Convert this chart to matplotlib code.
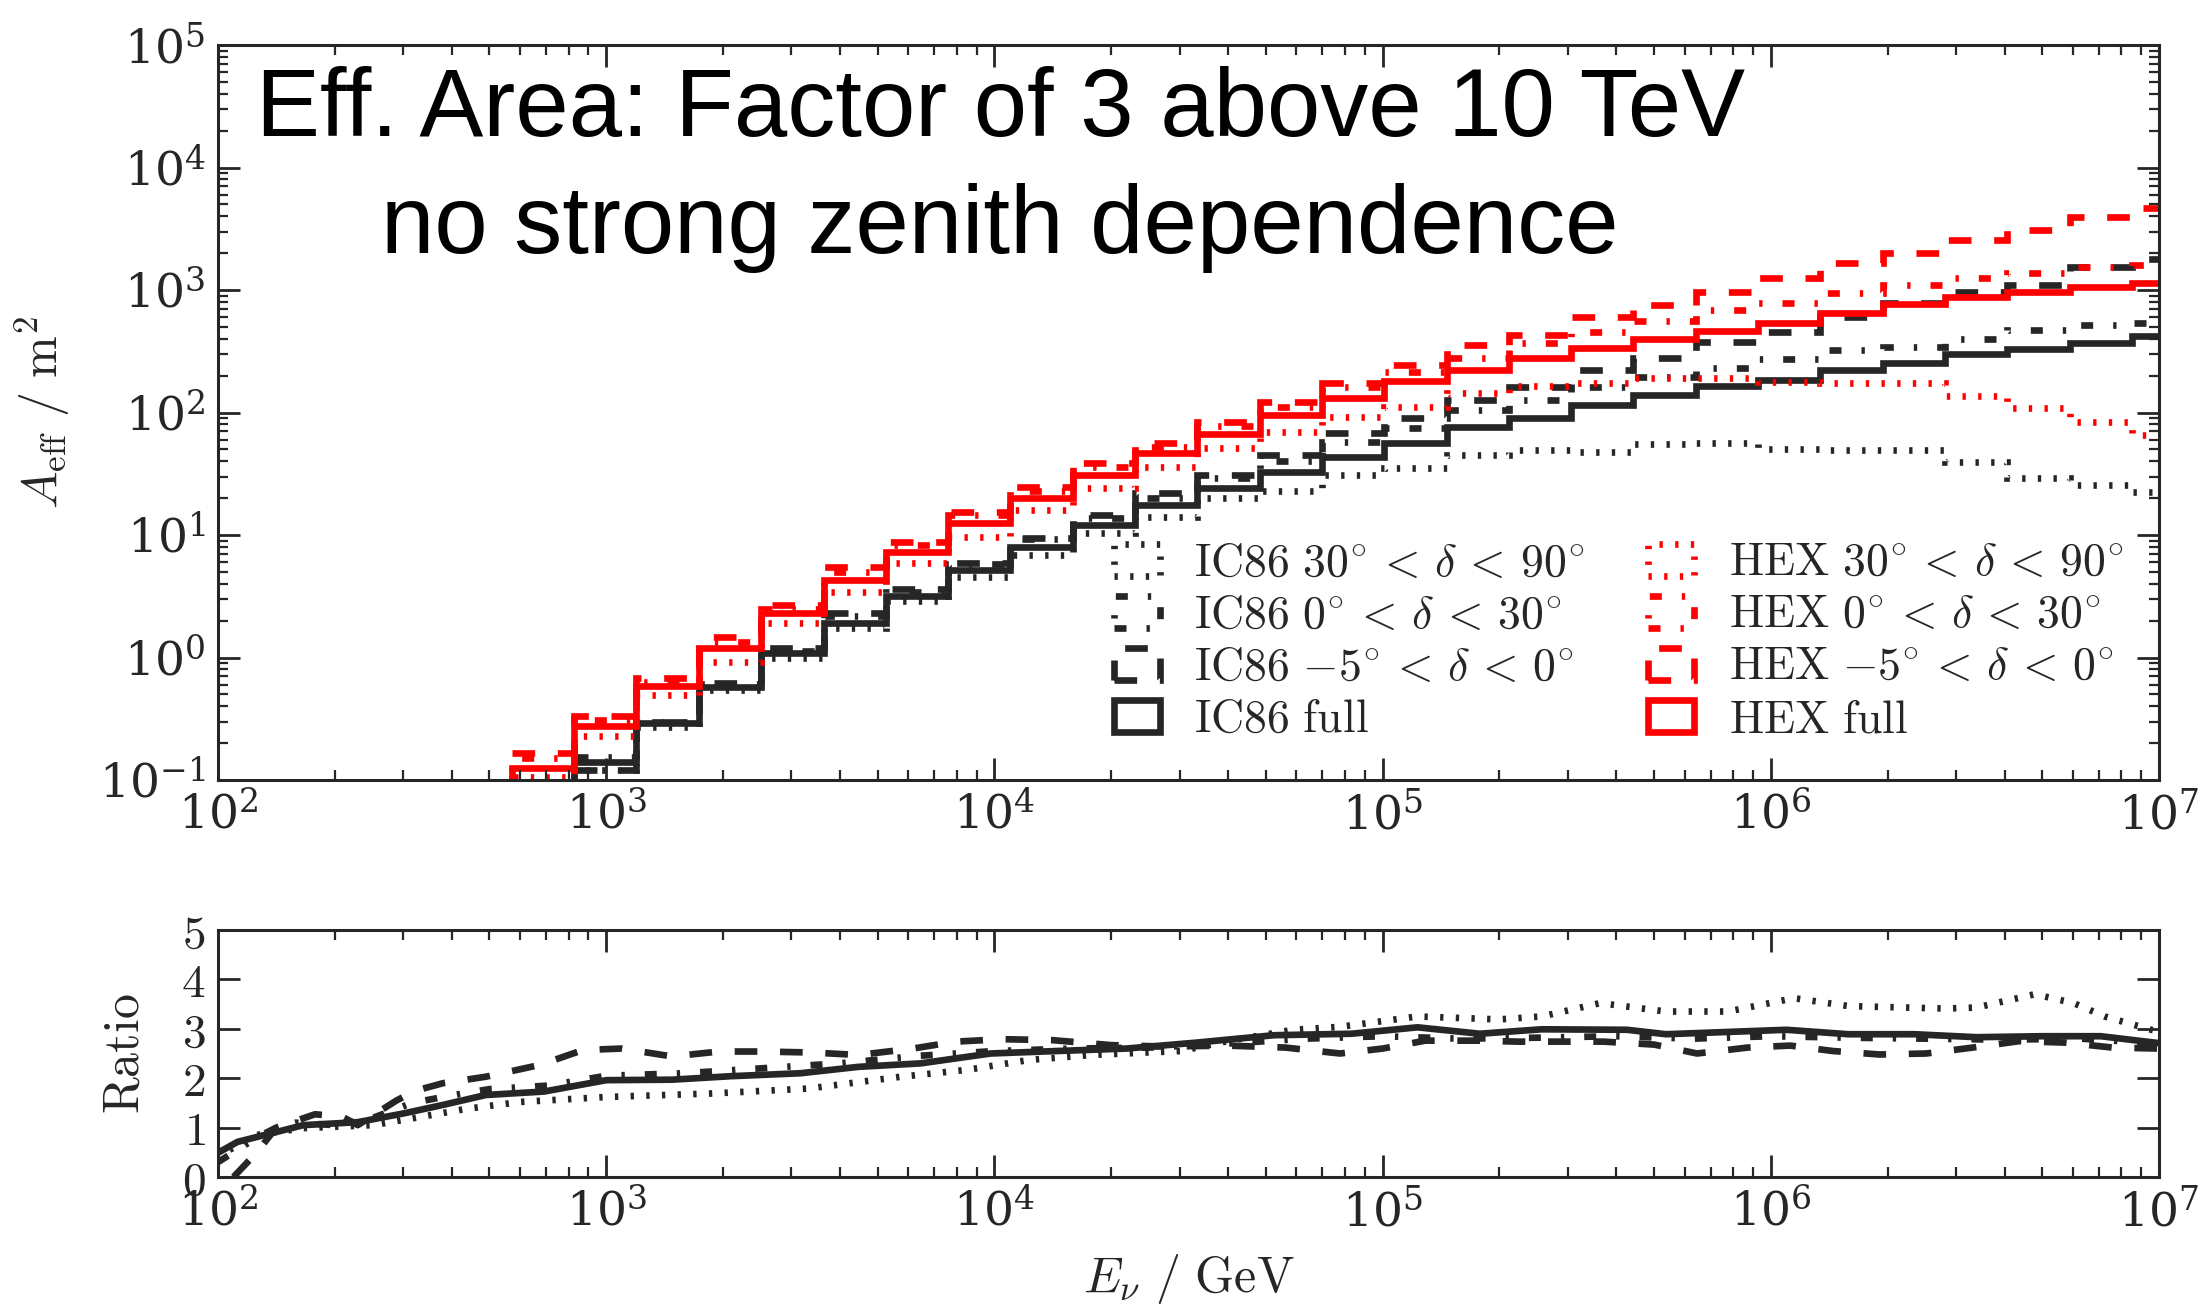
import numpy as np
import matplotlib
matplotlib.use("Agg")
from matplotlib import pyplot as plt
from matplotlib.patches import Patch
from matplotlib.ticker import LogLocator, FixedLocator, FixedFormatter, NullFormatter

# effective area vs neutrino energy, IC86 vs HEX, plus ratio panel
# bin edges in log10(E / GeV)
log_edges = [2.757, 2.918, 3.078, 3.239, 3.399, 3.560, 3.720, 3.881, 4.041, 4.202,
             4.362, 4.523, 4.683, 4.844, 5.004, 5.165, 5.325, 5.486, 5.646, 5.807,
             5.967, 6.128, 6.288, 6.449, 6.609, 6.770, 6.930, 7.091]

ic86_dotted = [0.05, 0.12, 0.27, 0.54, 1.0, 1.74, 2.9, 4.5, 6.9, 10.4, 14, 20, 23, 31,
               35, 45, 49, 48, 55, 56, 50, 49, 49, 39.5, 29, 25.6, 22.4]
ic86_dashdot = [0.07, 0.155, 0.3, 0.61, 1.14, 2.17, 3.45, 5.8, 9.2, 13.8, 20, 29, 40, 57,
                75, 105, 126, 161, 195, 231, 273, 323, 340, 400, 470, 520, 537]
ic86_dashed = [0.066, 0.12, 0.30, 0.62, 1.2, 2.3, 3.6, 5.9, 9.5, 14.6, 22, 31, 45, 68,
               90, 126, 161, 222, 279, 377, 454, 600, 780, 955, 1100, 1540, 1800]
ic86_full = [0.06, 0.14, 0.29, 0.57, 1.09, 1.9, 3.2, 5.2, 8.0, 12.1, 17.6, 24.2, 32.7, 43,
             56, 76, 91, 115, 138, 165, 183, 222, 254, 300, 330, 369, 421]

hex_dotted = [0.105, 0.23, 0.49, 0.92, 1.9, 3.4, 5.9, 9.6, 16, 24.2, 36, 51, 69, 92,
              111, 144, 165, 174, 190, 190, 176, 174, 174, 136, 109, 84, 65]
hex_dashdot = [0.15, 0.31, 0.63, 1.35, 2.5, 5.0, 8.3, 14.5, 23, 36, 52, 78, 110, 160,
               214, 279, 369, 454, 560, 690, 780, 946, 1100, 1250, 1380, 1540, 1600]
hex_dashed = [0.166, 0.33, 0.68, 1.47, 2.7, 5.5, 8.8, 15.4, 24.7, 38.7, 56, 84, 122, 174,
              244, 355, 430, 600, 760, 955, 1250, 1660, 2000, 2560, 3100, 3950, 4700]
hex_full = [0.125, 0.276, 0.585, 1.2, 2.3, 4.3, 7.3, 12.5, 20, 31, 47, 67, 95, 131,
            180, 222, 279, 336, 398, 463, 537, 650, 770, 877, 955, 1050, 1130]

# ratio HEX / IC86, x in log10(E / GeV)
ratio_dotted_x = [2.03, 2.1, 2.22, 2.4, 2.51, 2.64, 2.78, 3.0, 3.27, 3.52, 3.76, 3.93, 4.09,
                  4.25, 4.42, 4.48, 4.6, 4.77, 4.89, 5.09, 5.3, 5.41, 5.56, 5.73, 5.89, 6.06,
                  6.2, 6.45, 6.53, 6.68, 6.78, 6.86, 6.98, 7.0]
ratio_dotted = [0.55, 0.85, 0.99, 1.05, 1.2, 1.38, 1.52, 1.62, 1.69, 1.79, 2.03, 2.17, 2.37,
                2.47, 2.53, 2.55, 2.75, 2.98, 3.04, 3.25, 3.19, 3.25, 3.52, 3.35, 3.35, 3.62,
                3.46, 3.41, 3.43, 3.70, 3.52, 3.25, 2.98, 2.95]
ratio_dashdot_x = [2.0, 2.05, 2.1, 2.15, 2.2, 2.3, 2.4, 2.5, 2.6, 2.7, 2.85, 3.0, 3.2, 3.4,
                   3.6, 3.8, 4.0, 4.2, 4.4, 4.6, 4.8, 5.0, 5.2, 5.4, 5.6, 5.8, 6.0, 6.2, 6.4,
                   6.6, 6.8, 7.0]
ratio_dashdot = [0.3, 0.55, 0.8, 1.0, 1.1, 1.05, 1.2, 1.5, 1.65, 1.78, 1.85, 2.05, 2.1, 2.2,
                 2.3, 2.45, 2.55, 2.6, 2.62, 2.7, 2.8, 2.85, 2.8, 2.82, 2.85, 2.8, 2.85, 2.82,
                 2.8, 2.78, 2.8, 2.7]
ratio_dashed_x = [2.04, 2.1, 2.15, 2.25, 2.32, 2.36, 2.46, 2.51, 2.58, 2.69, 2.83, 2.94, 3.04,
                  3.17, 3.29, 3.4, 3.53, 3.65, 3.79, 3.9, 4.02, 4.15, 4.3, 4.44, 4.6, 4.75,
                  4.89, 5.0, 5.11, 5.24, 5.35, 5.46, 5.57, 5.7, 5.81, 5.94, 6.05, 6.16, 6.28,
                  6.4, 6.52, 6.64, 6.76, 6.88, 7.0]
ratio_dashed = [0.0, 0.5, 1.0, 1.27, 1.22, 1.05, 1.55, 1.75, 1.9, 2.03, 2.27, 2.57, 2.6,
                2.44, 2.54, 2.54, 2.52, 2.47, 2.6, 2.74, 2.79, 2.77, 2.67, 2.64, 2.66, 2.62,
                2.5, 2.6, 2.76, 2.76, 2.74, 2.74, 2.74, 2.68, 2.5, 2.62, 2.66, 2.55, 2.48,
                2.5, 2.62, 2.75, 2.72, 2.62, 2.6]
ratio_full_x = [2.0, 2.05, 2.12, 2.22, 2.36, 2.48, 2.58, 2.69, 2.84, 3.0, 3.17, 3.32, 3.5,
                3.65, 3.81, 3.99, 4.16, 4.34, 4.52, 4.72, 4.92, 5.09, 5.25, 5.41, 5.63, 5.73,
                6.04, 6.2, 6.37, 6.53, 6.7, 6.85, 7.0]
ratio_full = [0.49, 0.71, 0.85, 1.05, 1.11, 1.29, 1.46, 1.66, 1.73, 1.96, 1.97, 2.04, 2.10,
              2.23, 2.30, 2.50, 2.55, 2.60, 2.72, 2.87, 2.90, 3.03, 2.90, 2.99, 2.98, 2.89,
              2.98, 2.89, 2.89, 2.83, 2.85, 2.85, 2.71]

decl_labels = [r"30^{\circ}\,<\,\delta\,<\,90^{\circ}",
               r"0^{\circ}\,<\,\delta\,<\,30^{\circ}",
               r"{-5}^{\circ}\,<\,\delta\,<\,0^{\circ}",
               None]

GREY = "#262626"
RED = "#ff0000"
LW = 4.8
STYLES = [(0, (0.5, 1.85)), (0, (1.8, 3.0, 0.5, 3.0)), (0, (3.4, 3.4)), "solid"]


def style_axis(ax):
    for s in ax.spines.values():
        s.set_linewidth(2.2)
        s.set_color(GREY)
    ax.tick_params(which="both", direction="in", top=True, right=True, colors=GREY,
                   labelsize=34, labelcolor=GREY)
    ax.tick_params(which="major", length=16, width=2.0, pad=9)
    ax.tick_params(which="minor", length=7, width=1.6)
    ax.set_xscale("log")
    ax.set_xlim(1e2, 1e7)
    ax.xaxis.set_major_locator(LogLocator(base=10, numticks=20))
    ax.xaxis.set_minor_locator(LogLocator(base=10, subs=np.arange(2, 10), numticks=100))
    ax.xaxis.set_minor_formatter(NullFormatter())


def main():
    plt.rcParams["mathtext.fontset"] = "cm"
    plt.rcParams["font.family"] = ["DejaVu Serif"]

    fig = plt.figure(figsize=(22.05, 13.08), dpi=100)
    ax = fig.add_axes([218 / 2205, 1 - 780 / 1308, 1941 / 2205, 735 / 1308])
    axr = fig.add_axes([218 / 2205, 1 - 1177 / 1308, 1941 / 2205, 247 / 1308])

    edges = 10 ** np.array(log_edges)
    ic86 = [ic86_dotted, ic86_dashdot, ic86_dashed, ic86_full]
    hexs = [hex_dotted, hex_dashdot, hex_dashed, hex_full]

    for vals, ls in zip(ic86, STYLES):
        ax.stairs(vals, edges, baseline=1e-3, fill=False, color=GREY, lw=LW, linestyle=ls)
    for vals, ls in zip(hexs, STYLES):
        ax.stairs(vals, edges, baseline=1e-3, fill=False, color=RED, lw=LW, linestyle=ls)

    style_axis(ax)
    ax.set_yscale("log")
    ax.set_ylim(1e-1, 1e5)
    ax.yaxis.set_major_locator(LogLocator(base=10, numticks=20))
    ax.yaxis.set_minor_locator(LogLocator(base=10, subs=np.arange(2, 10), numticks=100))
    ax.yaxis.set_minor_formatter(NullFormatter())
    ax.set_ylabel(r"$A_\mathrm{eff}\ /\ \mathrm{m}^2$", fontsize=36, color=GREY)
    ax.yaxis.set_label_coords(-0.075, 0.5)

    # legend with box handles like hist step
    handles = []
    labels = []
    for det, col in [("IC86", GREY), ("HEX", RED)]:
        for dl, ls in zip(decl_labels, STYLES):
            handles.append(Patch(facecolor="none", edgecolor=col, linestyle=ls, linewidth=LW))
            if dl is None:
                labels.append(r"$\mathrm{%s\ full}$" % det)
            else:
                labels.append(r"$\mathrm{%s}\ %s$" % (det, dl))
    ax.legend(handles, labels, ncol=2, frameon=False, fontsize=33, loc="upper left",
              bbox_to_anchor=(0.4615, 0.326), borderpad=0, borderaxespad=0,
              handlelength=1.0, handleheight=0.7, handletextpad=0.75,
              columnspacing=1.4, labelspacing=0.15, labelcolor=GREY)

    ax.text(0.403, 0.876, "Eff. Area: Factor of 3 above 10 TeV", transform=ax.transAxes,
            ha="center", va="baseline", fontsize=69, family="Liberation Sans", color="black")
    ax.text(0.403, 0.717, "no strong zenith dependence", transform=ax.transAxes,
            ha="center", va="baseline", fontsize=69, family="Liberation Sans", color="black")

    # ratio panel
    rx = [ratio_dotted_x, ratio_dashdot_x, ratio_dashed_x, ratio_full_x]
    ry = [ratio_dotted, ratio_dashdot, ratio_dashed, ratio_full]
    for x, y, ls in zip(rx, ry, STYLES):
        axr.plot(10 ** np.array(x), y, color=GREY, lw=LW, linestyle=ls)

    style_axis(axr)
    axr.set_ylim(0, 5)
    axr.yaxis.set_major_locator(FixedLocator([0, 1, 2, 3, 4, 5]))
    axr.yaxis.set_major_formatter(FixedFormatter(["$%d$" % i for i in range(6)]))
    axr.set_ylabel(r"$\mathrm{Ratio}$", fontsize=36, color=GREY)
    axr.yaxis.set_label_coords(-0.035, 0.5)
    axr.set_xlabel(r"$E_\nu\ /\ \mathrm{GeV}$", fontsize=36, color=GREY)
    axr.xaxis.set_label_coords(0.5, -0.305)

    fig.savefig("out.png", dpi=100)


if __name__ == "__main__":
    main()
